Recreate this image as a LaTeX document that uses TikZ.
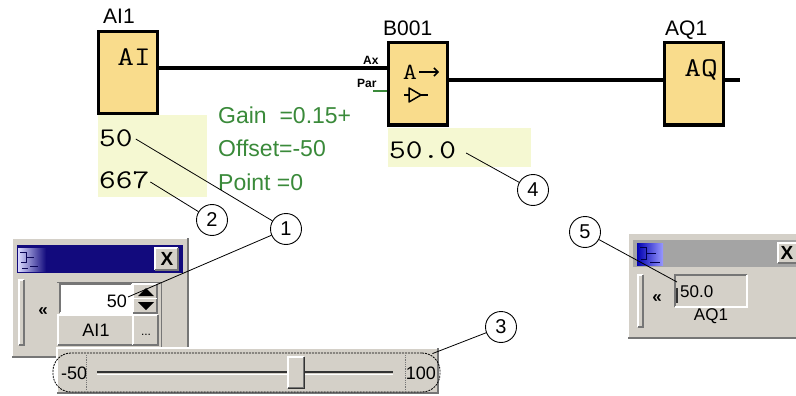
\documentclass[tikz,border=0pt]{standalone}
\usepackage{fontspec}
\setmainfont{Liberation Sans}
\usetikzlibrary{arrows.meta,calc}

\definecolor{blockfill}{RGB}{249,220,140}
\definecolor{notefill}{RGB}{245,248,210}
\definecolor{parcol}{RGB}{58,138,58}
\definecolor{wingray}{RGB}{212,208,200}
\definecolor{windark}{RGB}{118,118,118}
\definecolor{titleblue}{RGB}{18,10,125}
\definecolor{titlegray}{RGB}{164,164,164}

\newcommand{\monotxt}[1]{\scalebox{1.2}[1]{\ttfamily #1}}
\newcommand{\winraised}[4]{%
  \fill[wingray] (#1,#2) rectangle (#3,#4);
  \draw[white, line width=1.2pt] (#1,#4) -- (#1,#2) -- (#3,#2);
  \draw[windark, line width=1.2pt] (#1,#4) -- (#3,#4) -- (#3,#2);}
\newcommand{\winsunken}[5]{%
  \fill[#5] (#1,#2) rectangle (#3,#4);
  \draw[windark, line width=1.6pt] (#1,#4) -- (#1,#2) -- (#3,#2);
  \draw[white, line width=1.2pt] (#1,#4) -- (#3,#4) -- (#3,#2);}

\begin{document}
\begin{tikzpicture}[x=1pt,y=-1pt,
  block/.style={draw, line width=3pt, fill=blockfill, minimum width=59pt, minimum height=82pt, inner sep=0pt},
  wire/.style={line width=3.5pt},
  callout/.style={circle, draw, line width=0.9pt, minimum size=31pt, inner sep=0pt, font=\fontsize{20}{20}\selectfont},
  leader/.style={line width=0.8pt},
  blbl/.style={font=\fontsize{21}{21}\selectfont, inner sep=0pt, anchor=base west},
  gtext/.style={text=parcol, font=\fontsize{23}{23}\selectfont, anchor=west, inner sep=0pt},
  mtext/.style={font=\fontsize{27}{27}\selectfont, anchor=west, inner sep=0pt},
  wtext/.style={font=\fontsize{18}{18}\selectfont, inner sep=0pt},
  ptext/.style={font=\bfseries\fontsize{12}{12}\selectfont, inner sep=0pt, anchor=base west}]

\useasboundingbox (0,0) rectangle (796,396);
\clip (0,0) rectangle (796,396);
\fill[white] (0,0) rectangle (796,396);

% ---------- note areas ----------
\fill[notefill] (98,115) rectangle (207,197);
\fill[notefill] (388,128) rectangle (531,167);

% ---------- blocks ----------
\node[block] (ai) at (127.5,73) {};
\node[block] (b) at (417.5,84) {};
\node[block] (aq) at (694,84) {};

\node[blbl] (ailbl) at (103,24) {AI1};
\node[blbl] (blbl) at (383,36) {B001};
\node[blbl] (aqlbl) at (665,36) {AQ1};

\node[mtext, anchor=center] (aiin) at (134,57) {\monotxt{AI}};
\node[mtext, anchor=center] (aqin) at (701,70) {\monotxt{AQ}};
\node[font=\fontsize{23}{23}\selectfont, inner sep=0pt] (bin) at (410,72) {\monotxt{A}};
\draw[line width=1.5pt, -{Straight Barb[length=4pt,width=8pt]}] (419,72) -- (439,72);
\draw[line width=1.5pt] (404,95) -- (409,95) (421,95) -- (428,95);
\draw[line width=1.5pt, line join=round] (409,88) -- (421,95) -- (409,102) -- cycle;

% ---------- wires ----------
\coordinate (ax) at (388,68);
\coordinate (wy) at (0,80);
\coordinate (stub) at (740,80);
\coordinate (pary) at (373,91);
\draw[wire] (ai.east |- ax) -- (ax);
\draw[wire] (b.east |- wy) -- (aq.west |- wy);
\draw[wire] (aq.east |- stub) -- (stub);
\draw[parcol, line width=1.6pt] (pary) -- (b.west |- pary);
\node[ptext] (axl) at (363,65) {Ax};
\node[ptext] (parl) at (357,88) {Par};

% ---------- values ----------
\node[mtext] (v50) at (99,138) {\monotxt{50}};
\node[mtext] (v667) at (99,180) {\monotxt{667}};
\node[mtext] (v500) at (389,150) {\monotxt{50.0}};

\node[gtext] (gain) at (218,115) {Gain~~=0.15+};
\node[gtext] (offs) at (218,148) {Offset=-50};
\node[gtext] (pnt) at (218,182) {Point =0};

% ---------- AI1 window ----------
\winraised{12}{238}{188}{357}
\fill[titleblue] (17,245) rectangle (183,273);
\shade[left color=blue!15!white, right color=titleblue] (18,248) rectangle (46,271);
\draw[titleblue!70!black, line width=0.7pt] (20,252) -- (26,252) -- (26,262) -- (21,262) (26,257) -- (34,257) (30,266) -- (38,266) (22,268) -- (28,268);
\winraised{155}{248}{178}{270}
\node[font=\bfseries\fontsize{19}{19}\selectfont, inner sep=0pt] (x1) at (167,259) {X};
\winraised{19}{280}{24}{345}
\node[font=\bfseries\fontsize{17}{17}\selectfont, inner sep=0pt] (ll1) at (43,312) {«};
\draw[windark, line width=1pt] (57,282) -- (161,282) -- (161,348);
\winsunken{60}{284}{132}{313}{white}
\node[wtext, anchor=east] (spin50) at (127,301) {50};
\winraised{133}{284}{157}{298.5}
\winraised{133}{298.5}{157}{313}
\fill (138,296) -- (146,288) -- (154,296) -- cycle;
\fill (138,302) -- (154,302) -- (146,310) -- cycle;
\winraised{58}{315}{133}{345}
\node[wtext] (ai1b) at (96,330) {AI1};
\winraised{133}{315}{158}{345}
\node[font=\fontsize{12}{12}\selectfont, inner sep=0pt] (dots) at (146,335) {...};

% ---------- slider ----------
\winraised{57}{348}{438}{393}
\node[wtext, anchor=west] (smin) at (61,373) {-50};
\draw[densely dotted, windark, line width=0.8pt] (86,355) -- (86,391) (405,355) -- (405,391);
\draw[black!80, line width=1.8pt] (97,372) -- (393,372);
\draw[white, line width=1pt] (97,374.5) -- (393,374.5);
\winraised{288}{357}{304}{388}
\draw[black!80, line width=1pt] (304,357) -- (304,388) -- (288,388);
\node[wtext, anchor=east] (smax) at (436,373) {100};
\node[draw, dash pattern=on 2pt off 1pt, line width=0.8pt, rounded corners=18pt, minimum width=387pt, minimum height=39pt, inner sep=0pt] (sl) at (246.5,372.5) {};

% ---------- AQ1 window ----------
\winraised{628}{233}{800}{338}
\fill[titlegray] (633,240) rectangle (800,267);
\shade[left color=blue!70!black, right color=blue!40!white] (637,243) rectangle (663,265);
\draw[blue!30!black, line width=0.7pt] (640,247) -- (646,247) -- (646,259) -- (641,259) (646,253) -- (656,253) (650,262) -- (660,262);
\winraised{778}{243}{800}{263}
\node[font=\bfseries\fontsize{19}{19}\selectfont, inner sep=0pt] (x2) at (787,253) {X};
\winraised{638}{275}{643}{327}
\node[font=\bfseries\fontsize{17}{17}\selectfont, inner sep=0pt] (ll2) at (657,299) {«};
\winsunken{675}{275}{747}{307}{wingray}
\draw[black!80, line width=2pt] (677,288) -- (677,303);
\node[wtext, anchor=west, font=\fontsize{17}{17}\selectfont] (aqv) at (680,292) {50.0};
\node[wtext, font=\fontsize{17}{17}\selectfont] (aq1t) at (711,316) {AQ1};

% ---------- callouts ----------
\node[callout] (c1) at (286,229) {1};
\node[callout] (c2) at (212,220) {2};
\node[callout] (c3) at (501,327) {3};
\node[callout] (c4) at (533,190) {4};
\node[callout] (c5) at (585,232) {5};

\draw[leader] ($(v50.east)+(3,1)$) -- (c1);
\draw[leader] ($(v667.east)+(1,2)$) -- (c2);
\draw[leader] ($(v500.east)+(10,3)$) -- (c4);
\draw[leader] ($(spin50.east)+(1,-4)$) -- (c1);
\coordinate (slc) at ($(sl.north east)+(-8,1)$);
\draw[leader] (slc) -- (c3);
\coordinate (aqlead) at (677,282);
\draw[leader] (c5) -- (aqlead);

\end{tikzpicture}
\end{document}
